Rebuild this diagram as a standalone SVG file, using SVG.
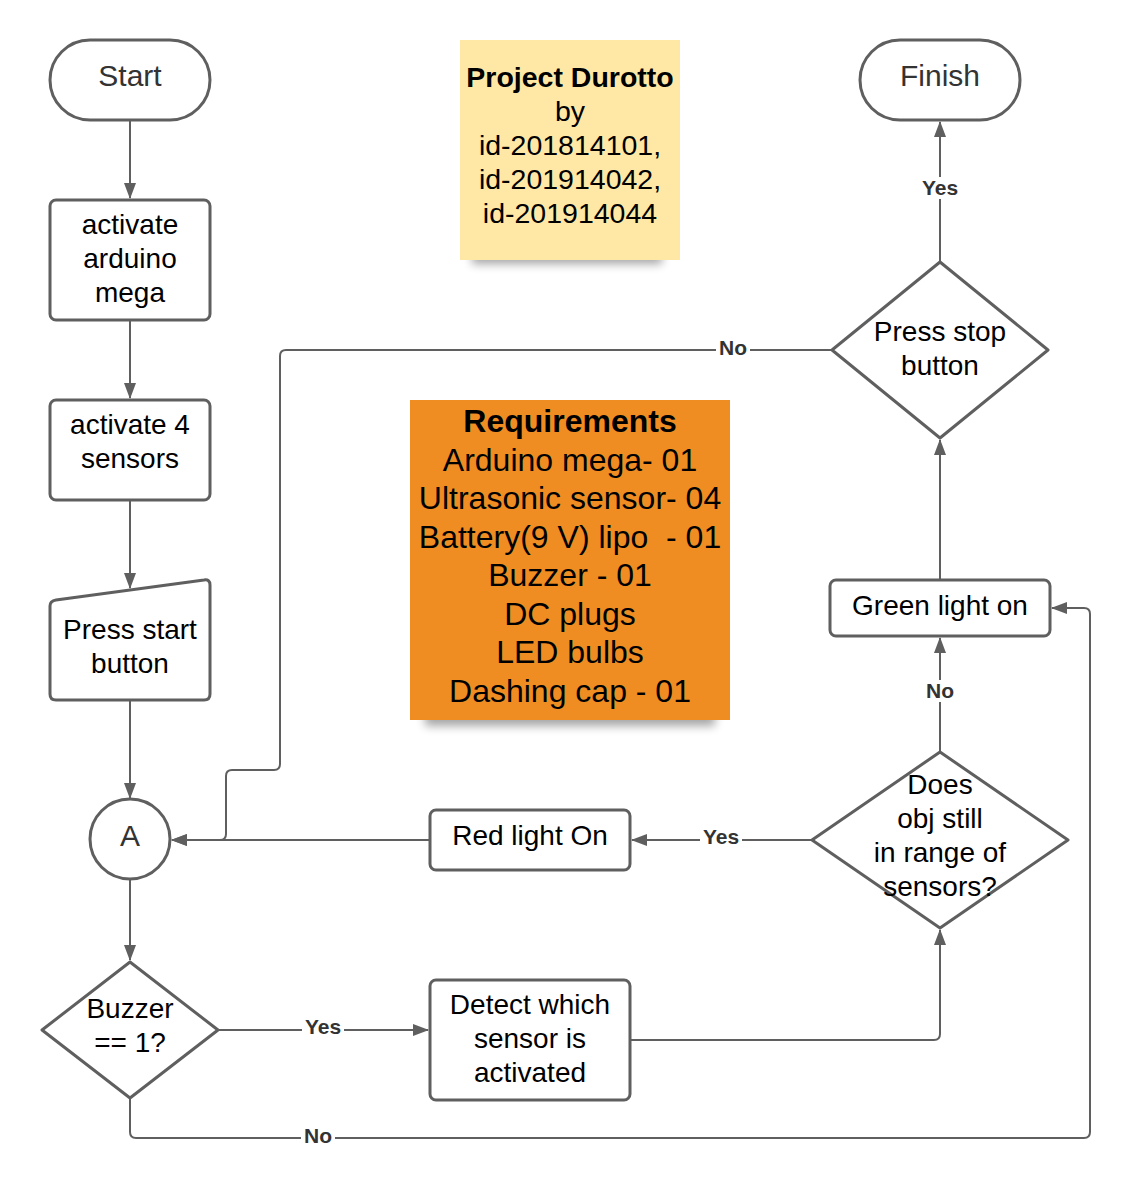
<svg xmlns="http://www.w3.org/2000/svg" width="1133" height="1193" viewBox="0 0 1133 1193">
<defs>
<style>
.shape{fill:#fff;stroke:#5f5f5f;stroke-width:3;stroke-linejoin:round}
.t{font-family:"Liberation Sans",Arial,sans-serif;font-size:28px;fill:#000;text-anchor:middle}
.tb{font-weight:bold}
.conn{fill:none;stroke:#5f5f5f;stroke-width:2;stroke-linejoin:round}
.lbl{font-family:"Liberation Sans",Arial,sans-serif;font-size:21px;font-weight:bold;fill:#333;text-anchor:middle}
.lblbg{fill:#fff}
</style>
<marker id="arr" viewBox="0 0 16 12" refX="15" refY="6" markerWidth="16" markerHeight="12" markerUnits="userSpaceOnUse" orient="auto">
<path d="M0,0 L16,6 L0,12 z" fill="#5f5f5f"/>
</marker>
<filter id="blur" x="-20%" y="-200%" width="140%" height="500%">
<feGaussianBlur stdDeviation="5"/>
</filter>
</defs>
<rect width="1133" height="1193" fill="#fff"/>

<g id="note-project">
<rect x="472" y="250" width="190" height="14" fill="#000" opacity="0.35" filter="url(#blur)"/>
<rect x="460" y="40" width="220" height="220" fill="#FFE8A6"/>
<g class="t" style="font-size:28.5px">
<text class="tb" x="570" y="87">Project Durotto</text>
<text x="570" y="121">by</text>
<text x="570" y="155">id-201814101,</text>
<text x="570" y="189">id-201914042,</text>
<text x="570" y="223">id-201914044</text>
</g>
</g>

<g id="note-requirements">
<rect x="425" y="708" width="290" height="18" fill="#000" opacity="0.35" filter="url(#blur)"/>
<rect x="410" y="400" width="320" height="320" fill="#EF8D22"/>
<g class="t" style="font-size:32px">
<text class="tb" x="570" y="432">Requirements</text>
<text x="570" y="471">Arduino mega- 01</text>
<text x="570" y="509">Ultrasonic sensor- 04</text>
<text x="570" y="548" xml:space="preserve">Battery(9 V) lipo  - 01</text>
<text x="570" y="586">Buzzer - 01</text>
<text x="570" y="625">DC plugs</text>
<text x="570" y="663">LED bulbs</text>
<text x="570" y="702">Dashing cap - 01</text>
</g>
</g>

<g id="connectors">
<path class="conn" d="M130,120 V198" marker-end="url(#arr)"/>
<path class="conn" d="M130,320 V398" marker-end="url(#arr)"/>
<path class="conn" d="M130,500 V588" marker-end="url(#arr)"/>
<path class="conn" d="M130,700 V798" marker-end="url(#arr)"/>
<path class="conn" d="M130,880 V960" marker-end="url(#arr)"/>
<path class="conn" d="M218,1030 H428" marker-end="url(#arr)"/>
<path class="conn" d="M130,1098 V1132 Q130,1138 136,1138 H1084 Q1090,1138 1090,1132 V614 Q1090,608 1084,608 H1052" marker-end="url(#arr)"/>
<path class="conn" d="M630,1040 H934 Q940,1040 940,1034 V930" marker-end="url(#arr)"/>
<path class="conn" d="M812,840 H632" marker-end="url(#arr)"/>
<path class="conn" d="M430,840 H172" marker-end="url(#arr)"/>
<path class="conn" d="M940,752 V638" marker-end="url(#arr)"/>
<path class="conn" d="M940,580 V440" marker-end="url(#arr)"/>
<path class="conn" d="M940,262 V122" marker-end="url(#arr)"/>
<path class="conn" d="M832,350 H286 Q280,350 280,356 V764 Q280,770 274,770 H232 Q226,770 226,776 V834 Q226,840 220,840 H172" marker-end="url(#arr)"/>
<g id="labels">
<rect class="lblbg" x="716" y="338" width="34" height="22"/><text class="lbl" x="733" y="355">No</text>
<rect class="lblbg" x="919" y="177" width="42" height="22"/><text class="lbl" x="940" y="195">Yes</text>
<rect class="lblbg" x="923" y="680" width="34" height="22"/><text class="lbl" x="940" y="698">No</text>
<rect class="lblbg" x="700" y="826" width="42" height="22"/><text class="lbl" x="721" y="844">Yes</text>
<rect class="lblbg" x="302" y="1016" width="42" height="22"/><text class="lbl" x="323" y="1034">Yes</text>
<rect class="lblbg" x="301" y="1125" width="34" height="22"/><text class="lbl" x="318" y="1143">No</text>
</g>
</g>

<g id="start">
<rect class="shape" x="50" y="40" width="160" height="80" rx="40"/>
<text class="t" style="font-size:30px;fill:#333" x="130" y="86">Start</text>
</g>
<g id="activate-arduino">
<rect class="shape" x="50" y="200" width="160" height="120" rx="6"/>
<text class="t" x="130" y="234">activate</text>
<text class="t" x="130" y="268">arduino</text>
<text class="t" x="130" y="302">mega</text>
</g>
<g id="activate-sensors">
<rect class="shape" x="50" y="400" width="160" height="100" rx="6"/>
<text class="t" x="130" y="434">activate 4</text>
<text class="t" x="130" y="468">sensors</text>
</g>
<g id="press-start">
<path class="shape" d="M56,600 L204,580 Q210,579 210,585 V694 Q210,700 204,700 H56 Q50,700 50,694 V606 Q50,601 56,600 Z"/>
<text class="t" x="130" y="639">Press start</text>
<text class="t" x="130" y="673">button</text>
</g>
<g id="connector-a">
<circle class="shape" cx="130" cy="839" r="40"/>
<text class="t" style="font-size:30px;fill:#333" x="130" y="846">A</text>
</g>
<g id="buzzer">
<path class="shape" d="M130,962 L218,1030 L130,1098 L42,1030 Z"/>
<text class="t" x="130" y="1018">Buzzer</text>
<text class="t" x="130" y="1052">== 1?</text>
</g>
<g id="detect">
<rect class="shape" x="430" y="980" width="200" height="120" rx="6"/>
<text class="t" x="530" y="1014">Detect which</text>
<text class="t" x="530" y="1048">sensor is</text>
<text class="t" x="530" y="1082">activated</text>
</g>
<g id="red-light">
<rect class="shape" x="430" y="810" width="200" height="60" rx="6"/>
<text class="t" x="530" y="845">Red light On</text>
</g>
<g id="in-range">
<path class="shape" d="M940,752 L1068,840 L940,928 L812,840 Z"/>
<text class="t" x="940" y="794">Does</text>
<text class="t" x="940" y="828">obj still</text>
<text class="t" x="940" y="862">in range of</text>
<text class="t" x="940" y="896">sensors?</text>
</g>
<g id="green-light">
<rect class="shape" x="830" y="580" width="220" height="56" rx="6"/>
<text class="t" x="940" y="615">Green light on</text>
</g>
<g id="press-stop">
<path class="shape" d="M940,262 L1048,350 L940,438 L832,350 Z"/>
<text class="t" x="940" y="341">Press stop</text>
<text class="t" x="940" y="375">button</text>
</g>
<g id="finish">
<rect class="shape" x="860" y="40" width="160" height="80" rx="40"/>
<text class="t" style="font-size:30px;fill:#333" x="940" y="86">Finish</text>
</g>
</svg>
